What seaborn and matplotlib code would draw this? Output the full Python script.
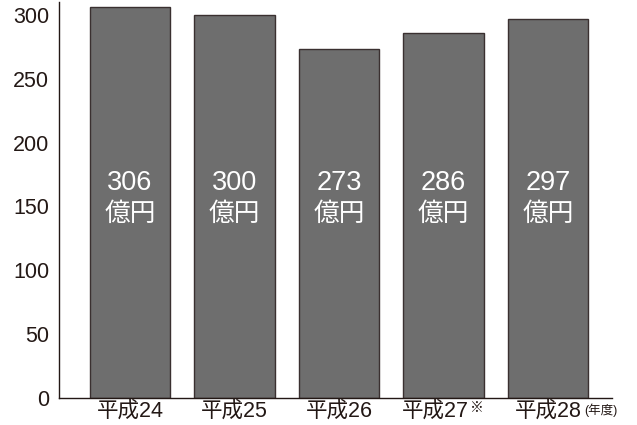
import matplotlib
matplotlib.use("Agg")
import matplotlib.pyplot as plt
import matplotlib.transforms as mtransforms
import seaborn as sns
import pandas as pd

categories = ["平成24", "平成25", "平成26", "平成27", "平成28"]
values = [306, 300, 273, 286, 297]
value_labels = ["306", "300", "273", "286", "297"]
unit_label = "億円"
yticks = [0, 50, 100, 150, 200, 250, 300]

sns.set_style("white")
plt.rcParams['font.family'] = ['Liberation Sans', 'Noto Sans CJK JP']

df = pd.DataFrame({"year": categories, "value": values})
ink = "#231815"

fig = plt.figure(figsize=(6.37, 4.25), dpi=100)
ax = fig.add_axes([59/637, 1 - 398/425, (612 - 59)/637, (398 - 2)/425])
sns.barplot(data=df, x="year", y="value", color="#6e6e6e", saturation=1,
            width=0.77, edgecolor="#3a3030", linewidth=1.0, ax=ax)

ax.set_xlim(-0.68, 4.61)
ax.set_ylim(0, 310)
ax.set_yticks(yticks)
ax.set_yticklabels([str(t) for t in yticks], fontsize=15.5, color=ink)
ax.set_xlabel("")
ax.set_ylabel("")
ax.tick_params(axis="y", direction="in", length=13, width=1, color=ink, pad=7)
ax.tick_params(axis="x", length=0, labelbottom=False)
for s in ["top", "right"]:
    ax.spines[s].set_visible(False)
for s in ["left", "bottom"]:
    ax.spines[s].set_color(ink)
    ax.spines[s].set_linewidth(1)

for i, lab in enumerate(value_labels):
    ax.text(i, 168, lab, ha="center", va="center", color="white", fontsize=19.5)
    ax.text(i, 144, unit_label, ha="center", va="center", color="white", fontsize=18.5)

trans = mtransforms.blended_transform_factory(ax.transData, ax.transAxes)
label_x = [0, 1, 2, 2.92, 4]
for x, cat in zip(label_x, categories):
    ax.text(x, -0.033, cat, transform=trans, ha="center", va="center",
            fontsize=15.5, color=ink)
ax.text(3.25, -0.008, "※", transform=trans, ha="left", va="top",
        fontsize=10, color=ink)
ax.text(4.34, -0.03, "(年度)", transform=trans, ha="left", va="center",
        fontsize=9, color=ink)

fig.savefig("out.png", dpi=100)
